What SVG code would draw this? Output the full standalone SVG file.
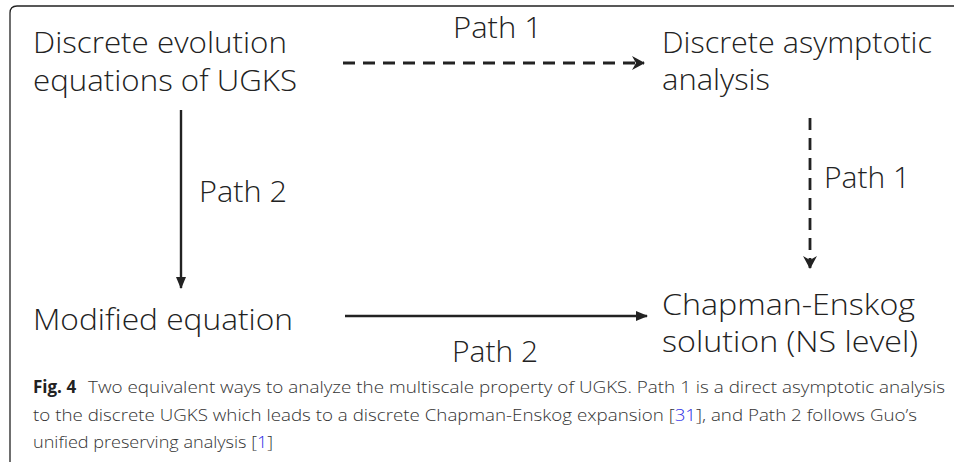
<svg xmlns="http://www.w3.org/2000/svg" width="954" height="465" viewBox="0 0 954 465">
  <style>
    .lbl { font-family: "Open Sans", "Noto Sans", "Liberation Sans", sans-serif; font-weight: 300; font-size: 29px; fill: #222; }
    .cap { font-family: "Open Sans", "Noto Sans", "Liberation Sans", sans-serif; font-weight: 300; font-size: 17px; fill: #333; }
    .capb { font-weight: 700; fill: #222; }
    .ref { fill: #2a2ae6; }
    .solid { stroke: #222; stroke-width: 2.4; fill: none; }
    .dash { stroke: #222; stroke-width: 2.8; fill: none; stroke-dasharray: 12 8; }
  </style>
  <defs>
    <marker id="tri" viewBox="0 0 12 10" refX="11" refY="5" markerWidth="12" markerHeight="10" markerUnits="userSpaceOnUse" orient="auto">
      <path d="M0,0 L12,5 L0,10 Z" fill="#222"/>
    </marker>
    <marker id="chev" viewBox="0 0 13 14" refX="12" refY="7" markerWidth="13" markerHeight="14" markerUnits="userSpaceOnUse" orient="auto">
      <path d="M0,0 L13,7 L0,14 L4,7 Z" fill="#222"/>
    </marker>
  </defs>

  <rect width="954" height="465" fill="#fff"/>

  <!-- figure frame: left and top rule with rounded corner -->
  <path d="M10,462 L10,13 Q10,6 17,6 L954,6" stroke="#222" stroke-width="1.3" fill="none"/>

  <g id="node-discrete-evolution">
    <text class="lbl" x="33" y="53" textLength="254" lengthAdjust="spacingAndGlyphs">Discrete evolution</text>
    <text class="lbl" x="33" y="91" textLength="264" lengthAdjust="spacingAndGlyphs">equations of UGKS</text>
  </g>
  <g id="node-asymptotic">
    <text class="lbl" x="662" y="53" textLength="270" lengthAdjust="spacingAndGlyphs">Discrete asymptotic</text>
    <text class="lbl" x="662" y="90" textLength="108" lengthAdjust="spacingAndGlyphs">analysis</text>
  </g>
  <g id="node-modified">
    <text class="lbl" x="33" y="330" textLength="260" lengthAdjust="spacingAndGlyphs">Modified equation</text>
  </g>
  <g id="node-chapman">
    <text class="lbl" x="662" y="315" textLength="253" lengthAdjust="spacingAndGlyphs">Chapman-Enskog</text>
    <text class="lbl" x="662" y="352" textLength="256" lengthAdjust="spacingAndGlyphs">solution (NS level)</text>
  </g>

  <g id="connectors">
    <line class="dash" x1="343" y1="63" x2="644" y2="63" marker-end="url(#chev)"/>
    <text class="lbl" x="453" y="38" textLength="89" lengthAdjust="spacingAndGlyphs">Path 1</text>
    <line class="dash" x1="810" y1="118" x2="810" y2="268" marker-end="url(#chev)"/>
    <text class="lbl" x="824" y="188" textLength="86" lengthAdjust="spacingAndGlyphs">Path 1</text>
    <line class="solid" x1="181" y1="110" x2="181" y2="288" marker-end="url(#tri)"/>
    <text class="lbl" x="199" y="202" textLength="88" lengthAdjust="spacingAndGlyphs">Path 2</text>
    <line class="solid" x1="345" y1="316" x2="647" y2="316" marker-end="url(#tri)"/>
    <text class="lbl" x="452" y="362" textLength="86" lengthAdjust="spacingAndGlyphs">Path 2</text>
  </g>

  <g id="caption">
    <text class="cap" x="33" y="393"><tspan class="capb">Fig. 4</tspan></text>
    <text class="cap" x="88" y="393" textLength="857" lengthAdjust="spacingAndGlyphs">Two equivalent ways to analyze the multiscale property of UGKS. Path 1 is a direct asymptotic analysis</text>
    <text class="cap" x="33" y="421" textLength="884" lengthAdjust="spacingAndGlyphs">to the discrete UGKS which leads to a discrete Chapman-Enskog expansion [<tspan class="ref">31</tspan>], and Path 2 follows Guo’s</text>
    <text class="cap" x="33" y="448" textLength="240" lengthAdjust="spacingAndGlyphs">unified preserving analysis [<tspan class="ref">1</tspan>]</text>
  </g>
</svg>
